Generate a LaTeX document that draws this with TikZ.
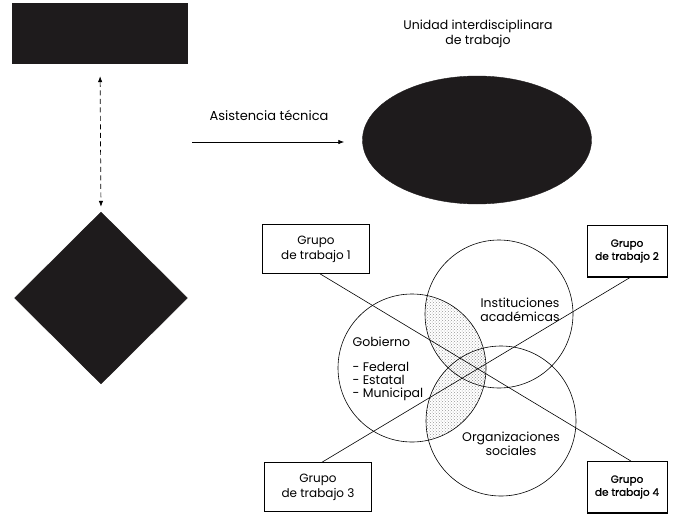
\documentclass[tikz,border=0pt]{standalone}
\usepackage{fontspec}
\setmainfont{Poppins}
\newfontfamily\heavyish[FakeBold=1.2]{Poppins}
\usetikzlibrary{shapes.geometric,arrows.meta,patterns}
\definecolor{ink}{RGB}{30,27,28}
\begin{document}
\begin{tikzpicture}[x=1pt,y=-1pt,
  solid shape/.style={fill=ink,draw=ink,inner sep=0pt},
  groupbox/.style={draw,line width=0.6pt,minimum width=107pt,minimum height=49pt,align=center,font=\fontsize{12}{15}\selectfont},
  groupboxb/.style={draw,line width=0.8pt,minimum width=80pt,minimum height=51pt,inner sep=1pt,align=center,font=\heavyish\fontsize{10.5}{13}\selectfont},
  ring/.style={draw,line width=0.6pt},
  lbl/.style={font=\fontsize{12.5}{14.5}\selectfont,align=center},
  link/.style={line width=0.6pt},
  tip/.style={-{Latex[length=6pt,width=4.5pt]}}
]
\useasboundingbox (0,0) rectangle (674,514);

% dark blocks on the left and the oval
\node[solid shape,rectangle,minimum width=175pt,minimum height=60pt] (rect) at (100,33) {};
\node[solid shape,diamond,minimum width=173pt,minimum height=172pt] (diam) at (101,298) {};
\node[solid shape,ellipse,minimum width=229pt,minimum height=128pt] (ell) at (477,140) {};

\draw[dash pattern=on 5pt off 3.5pt,line width=0.7pt,{Latex[length=6pt,width=4.5pt]}-{Latex[length=6pt,width=4.5pt]},
      shorten <=13pt,shorten >=5pt] (rect.south) -- (diam.north);

\node[lbl,font=\fontsize{12.5}{15}\selectfont] (unit) at (478,34) {Unidad interdisciplinara\\de trabajo};

\coordinate (asst) at (192,142);
\node[lbl,font=\fontsize{13}{15}\selectfont] (astxt) at (269,115) {Asistencia técnica};
\draw[line width=0.8pt,tip,shorten >=18pt] (asst) -- (asst -| ell.west);

% shaded overlaps of the three circles
\coordinate (cg) at (412,368);
\coordinate (ci) at (499,314);
\coordinate (co) at (501,421);
\begin{scope}
  \clip (cg) circle (74pt);
  \fill[pattern=crosshatch dots,pattern color=black!40] (ci) circle (74pt);
  \fill[pattern=crosshatch dots,pattern color=black!40] (co) circle (75pt);
\end{scope}
\draw[ring] (cg) circle (74pt);
\draw[ring] (ci) circle (74pt);
\draw[ring] (co) circle (75pt);

\node[lbl] (inst) at (520,310) {Instituciones\\académicas};
\node[lbl,font=\fontsize{12.5}{13.5}\selectfont] (org) at (511,444) {Organizaciones\\sociales};
\node[lbl,anchor=north west,align=left,font=\fontsize{12.5}{13}\selectfont] (gob) at (349,333)
  {Gobierno\\[12pt]- Federal\\- Estatal\\- Municipal};

% working groups
\node[groupbox] (g1) at (316,249) {Grupo\\de trabajo 1};
\node[groupbox] (g3) at (318,487) {Grupo\\de trabajo 3};
\node[groupboxb] (g2) at (627,251) {Grupo\\de trabajo 2};
\node[groupboxb] (g4) at (627,487) {Grupo\\de trabajo 4};
\foreach \g in {g2,g4}
  \draw[line width=1.6pt] (\g.north east) -- (\g.south east) -- (\g.south west);

\draw[link] ([xshift=4pt]g1.south) -- ([xshift=4pt]g4.north);
\draw[link] ([xshift=4pt]g3.north) -- ([xshift=4pt]g2.south);
\end{tikzpicture}
\end{document}
